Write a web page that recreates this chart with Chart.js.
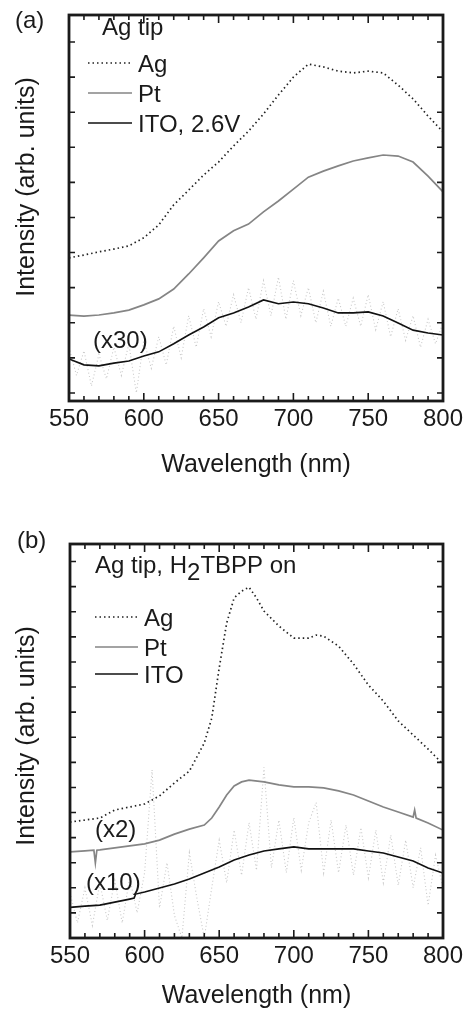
<!DOCTYPE html>
<html>
<head>
<meta charset="utf-8">
<script src="https://cdn.jsdelivr.net/npm/chart.js@4.4.1/dist/chart.umd.min.js"></script>
<style>
  body { margin: 0; background: #fff; }
  canvas { position: absolute; left: 0; }
</style>
</head>
<body>
<canvas id="chartA" width="471" height="500" style="top:0px"></canvas>
<canvas id="chartB" width="471" height="512" style="top:500px"></canvas>
<script>
// wavelength grids (nm)
var wl10 = [550, 560, 570, 580, 590, 600, 610, 620, 630, 640, 650, 660, 670,
            680, 690, 700, 710, 720, 730, 740, 750, 760, 770, 780, 790, 800];
var wl5 = [550, 555, 560, 565, 570, 575, 580, 585, 590, 595, 600, 605, 610, 615, 620, 625, 630,
           635, 640, 645, 650, 655, 660, 665, 670, 675, 680, 685, 690, 695, 700, 705, 710,
           715, 720, 725, 730, 735, 740, 745, 750, 755, 760, 765, 770, 775, 780, 785, 790, 795, 800];
var xTicks = [550, 600, 650, 700, 750, 800];

// panel (a): Ag tip
var agA  = [3.85, 3.93, 4.02, 4.10, 4.19, 4.42, 4.79, 5.36, 5.78, 6.21, 6.58, 7.04, 7.46,
            7.95, 8.49, 9.00, 9.37, 9.29, 9.17, 9.12, 9.17, 9.12, 8.77, 8.38, 7.89, 7.44];
var ptA  = [2.22, 2.19, 2.22, 2.28, 2.36, 2.51, 2.68, 2.96, 3.39, 3.85, 4.33, 4.62, 4.81,
            5.16, 5.47, 5.81, 6.15, 6.32, 6.47, 6.61, 6.70, 6.78, 6.75, 6.58, 6.18, 5.73];
var itoA = [0.97, 0.80, 0.77, 0.85, 0.91, 1.05, 1.17, 1.40, 1.65, 1.88, 2.14, 2.28, 2.45,
            2.65, 2.54, 2.59, 2.54, 2.42, 2.28, 2.28, 2.31, 2.19, 1.99, 1.79, 1.71, 1.65];
var itoRawA = [1.3, 0.5, 1.2, 0.2, 1.1, 0.4, 1.3, 0.5, 1.4, 0.0, 1.5, 0.7, 1.6, 0.8, 1.9, 1.0, 2.2,
               1.3, 2.4, 1.6, 2.6, 1.9, 2.8, 2.0, 3.0, 2.1, 3.2, 2.2, 3.3, 2.1, 3.2, 2.2, 3.0,
               2.0, 2.9, 1.9, 2.7, 1.9, 2.7, 1.9, 2.8, 1.8, 2.6, 1.6, 2.4, 1.5, 2.2, 1.3, 2.1, 1.4, 2.0];

// panel (b): Ag tip, H2TBPP on
var agBWl = [550, 560, 570, 580, 590, 600, 610, 620, 630, 640, 645, 650, 655, 660, 665, 670,
             675, 680, 690, 700, 710, 715, 720, 730, 740, 750, 760, 770, 780, 790, 800];
var agB   = [4.62, 4.70, 4.78, 5.10, 5.22, 5.34, 5.66, 6.18, 6.65, 7.77, 8.76, 10.76, 12.55, 13.55, 13.82, 13.98,
             13.55, 13.03, 12.43, 11.95, 11.95, 12.07, 12.03, 11.63, 10.92, 10.08, 9.44, 8.65, 8.09, 7.53, 6.93];
var ptBWl = [550, 560, 566, 567, 568, 570, 580, 590, 600, 610, 620, 630, 640, 645, 650, 655, 660,
             665, 670, 680, 690, 700, 710, 720, 730, 740, 750, 760, 770, 780, 781, 782, 790, 800];
var ptB   = [3.43, 3.47, 3.50, 2.99, 3.50, 3.51, 3.59, 3.67, 3.75, 3.90, 4.14, 4.34, 4.50, 4.78, 5.22, 5.70, 6.06,
             6.22, 6.29, 6.22, 6.10, 6.02, 6.02, 5.98, 5.86, 5.70, 5.46, 5.22, 5.02, 4.82, 5.10, 4.78, 4.58, 4.30];
var itoBWl = [550, 560, 570, 580, 590, 593, 594, 600, 610, 620, 630, 640, 650, 660, 670,
              680, 690, 700, 710, 720, 730, 740, 750, 760, 770, 780, 790, 800];
var itoB   = [1.22, 1.27, 1.31, 1.43, 1.55, 1.59, 1.75, 1.83, 1.99, 2.15, 2.35, 2.59, 2.83, 3.11, 3.31,
              3.47, 3.55, 3.63, 3.55, 3.55, 3.55, 3.55, 3.47, 3.39, 3.23, 3.07, 2.79, 2.59];
var itoRawB = [1.8, 0.6, 2.0, 0.5, 2.2, 0.7, 2.3, 0.6, 2.4, 1.0, 2.6, 6.7, 1.2, 3.0, 0.9, 0.0, 3.4,
               1.6, 0.0, 2.0, 3.9, 2.2, 4.3, 2.5, 4.6, 2.7, 6.8, 2.8, 4.7, 2.6, 4.8, 2.7, 4.6,
               5.4, 2.6, 4.7, 2.6, 4.5, 2.5, 4.4, 2.4, 4.3, 2.2, 4.1, 2.1, 3.9, 2.0, 3.6, 1.3, 3.3, 2.0];

var FONT = '"Liberation Sans", Arial, sans-serif';
var INK = '#1a1a1a';

function pts(xs, ys) {
  return ys.map(function(v, i) { return { x: xs[i], y: v }; });
}

var agStyle  = { borderColor: '#222', borderWidth: 1.7, borderDash: [1.5, 3] };
var ptStyle  = { borderColor: '#858585', borderWidth: 1.7, borderDash: [] };
var itoStyle = { borderColor: '#111', borderWidth: 1.6, borderDash: [] };
var rawStyle = { borderColor: '#c8c8c8', borderWidth: 1.1, borderDash: [1, 2.5] };

function ds(label, data, st) {
  return {
    label: label, data: data, borderColor: st.borderColor, borderWidth: st.borderWidth,
    borderDash: st.borderDash, pointRadius: 0, fill: false, tension: 0
  };
}

// frame, inward ticks, legend and labels
function decor(cfg) {
  return {
    id: 'decor',
    afterDraw: function(chart) {
      var ctx = chart.ctx, a = chart.chartArea;
      var xs = chart.scales.x, ys = chart.scales.y;
      ctx.save();
      ctx.strokeStyle = INK;
      ctx.lineWidth = 1.6;
      ctx.beginPath();
      for (var v = 550; v <= 800; v += 10) {
        var px = xs.getPixelForValue(v);
        var len = v % 50 === 0 ? 8 : 5;
        ctx.moveTo(px, a.bottom); ctx.lineTo(px, a.bottom - len);
        ctx.moveTo(px, a.top); ctx.lineTo(px, a.top + len);
      }
      cfg.yTicks.forEach(function(t) {
        var py = ys.getPixelForValue(t);
        ctx.moveTo(a.left, py); ctx.lineTo(a.left + 6, py);
        ctx.moveTo(a.right, py); ctx.lineTo(a.right - 6, py);
      });
      ctx.stroke();
      ctx.lineWidth = 2.8;
      ctx.strokeRect(a.left, a.top, a.right - a.left, a.bottom - a.top);

      ctx.fillStyle = INK;
      ctx.font = '24px ' + FONT;
      ctx.textBaseline = 'alphabetic';
      ctx.textAlign = 'left';
      cfg.texts.forEach(function(t) {
        var x = t.x;
        t.parts.forEach(function(p) {
          ctx.fillText(p.s, x, t.y + (p.dy || 0));
          x += ctx.measureText(p.s).width;
        });
      });

      cfg.legend.forEach(function(l) {
        ctx.beginPath();
        ctx.strokeStyle = l.st.borderColor;
        ctx.lineWidth = l.st.borderWidth;
        ctx.setLineDash(l.st.borderDash);
        ctx.moveTo(cfg.lx0, l.y); ctx.lineTo(cfg.lx1, l.y);
        ctx.stroke();
        ctx.setLineDash([]);
        ctx.fillText(l.label, cfg.tx, l.y + 9);
      });

      ctx.font = '25px ' + FONT;
      ctx.translate(cfg.yTitle[0], cfg.yTitle[1]);
      ctx.rotate(-Math.PI / 2);
      ctx.textAlign = 'center';
      ctx.fillText('Intensity (arb. units)', 0, 0);
      ctx.restore();
    }
  };
}

function makeChart(id, datasets, yMin, yMax, pad, axisH, titleBottom, cfg) {
  return new Chart(document.getElementById(id), {
    type: 'line',
    data: { datasets: datasets },
    options: {
      responsive: false,
      animation: false,
      events: [],
      layout: { padding: pad },
      plugins: { legend: { display: false }, tooltip: { enabled: false } },
      scales: {
        x: {
          type: 'linear', min: 550, max: 800,
          afterBuildTicks: function(s) { s.ticks = xTicks.map(function(v) { return { value: v }; }); },
          afterFit: function(s) { s.height = axisH; },
          grid: { display: false, drawTicks: false },
          border: { display: false },
          ticks: { padding: 4, color: INK, autoSkip: false, maxRotation: 0, font: { size: 24, family: FONT } },
          title: { display: true, text: 'Wavelength (nm)', color: INK,
                   font: { size: 25, family: FONT }, padding: { top: 0, bottom: titleBottom } }
        },
        y: { type: 'linear', display: false, min: yMin, max: yMax }
      }
    },
    plugins: [decor(cfg)]
  });
}

makeChart('chartA', [
    ds('Ag', pts(wl10, agA), agStyle),
    ds('Pt', pts(wl10, ptA), ptStyle),
    ds('ITO, 2.6V', pts(wl10, itoA), itoStyle),
    ds('ITO raw', pts(wl5, itoRawA), rawStyle)
  ], -0.23, 10.77, { left: 69, right: 28, top: 15, bottom: 0 }, 99, 20, {
    yTicks: [0, 1, 2, 3, 4, 5, 6, 7, 8, 9, 10],
    texts: [
      { x: 15, y: 28, parts: [{ s: '(a)' }] },
      { x: 102, y: 35, parts: [{ s: 'Ag tip' }] },
      { x: 93, y: 348, parts: [{ s: '(x30)' }] }
    ],
    lx0: 88, lx1: 132, tx: 138,
    legend: [
      { label: 'Ag', y: 63, st: agStyle },
      { label: 'Pt', y: 93, st: ptStyle },
      { label: 'ITO, 2.6V', y: 123, st: itoStyle }
    ],
    yTitle: [34, 187]
  });

makeChart('chartB', [
    ds('Ag', pts(agBWl, agB), agStyle),
    ds('Pt', pts(ptBWl, ptB), ptStyle),
    ds('ITO', pts(itoBWl, itoB), itoStyle),
    ds('ITO raw', pts(wl5, itoRawB), rawStyle)
  ], 0, 15.7, { left: 70, right: 28, top: 44, bottom: 0 }, 74, 1, {
    yTicks: [1, 2, 3, 4, 5, 6, 7, 8, 9, 10, 11, 12, 13, 14, 15],
    texts: [
      { x: 17, y: 48, parts: [{ s: '(b)' }] },
      { x: 95, y: 73, parts: [{ s: 'Ag tip, H' }, { s: '2', dy: 7 }, { s: 'TBPP on' }] },
      { x: 95, y: 337, parts: [{ s: '(x2)' }] },
      { x: 86, y: 390, parts: [{ s: '(x10)' }] }
    ],
    lx0: 95, lx1: 138, tx: 144,
    legend: [
      { label: 'Ag', y: 117, st: agStyle },
      { label: 'Pt', y: 147, st: ptStyle },
      { label: 'ITO', y: 174, st: itoStyle }
    ],
    yTitle: [34, 236]
  });
</script>
</body>
</html>
